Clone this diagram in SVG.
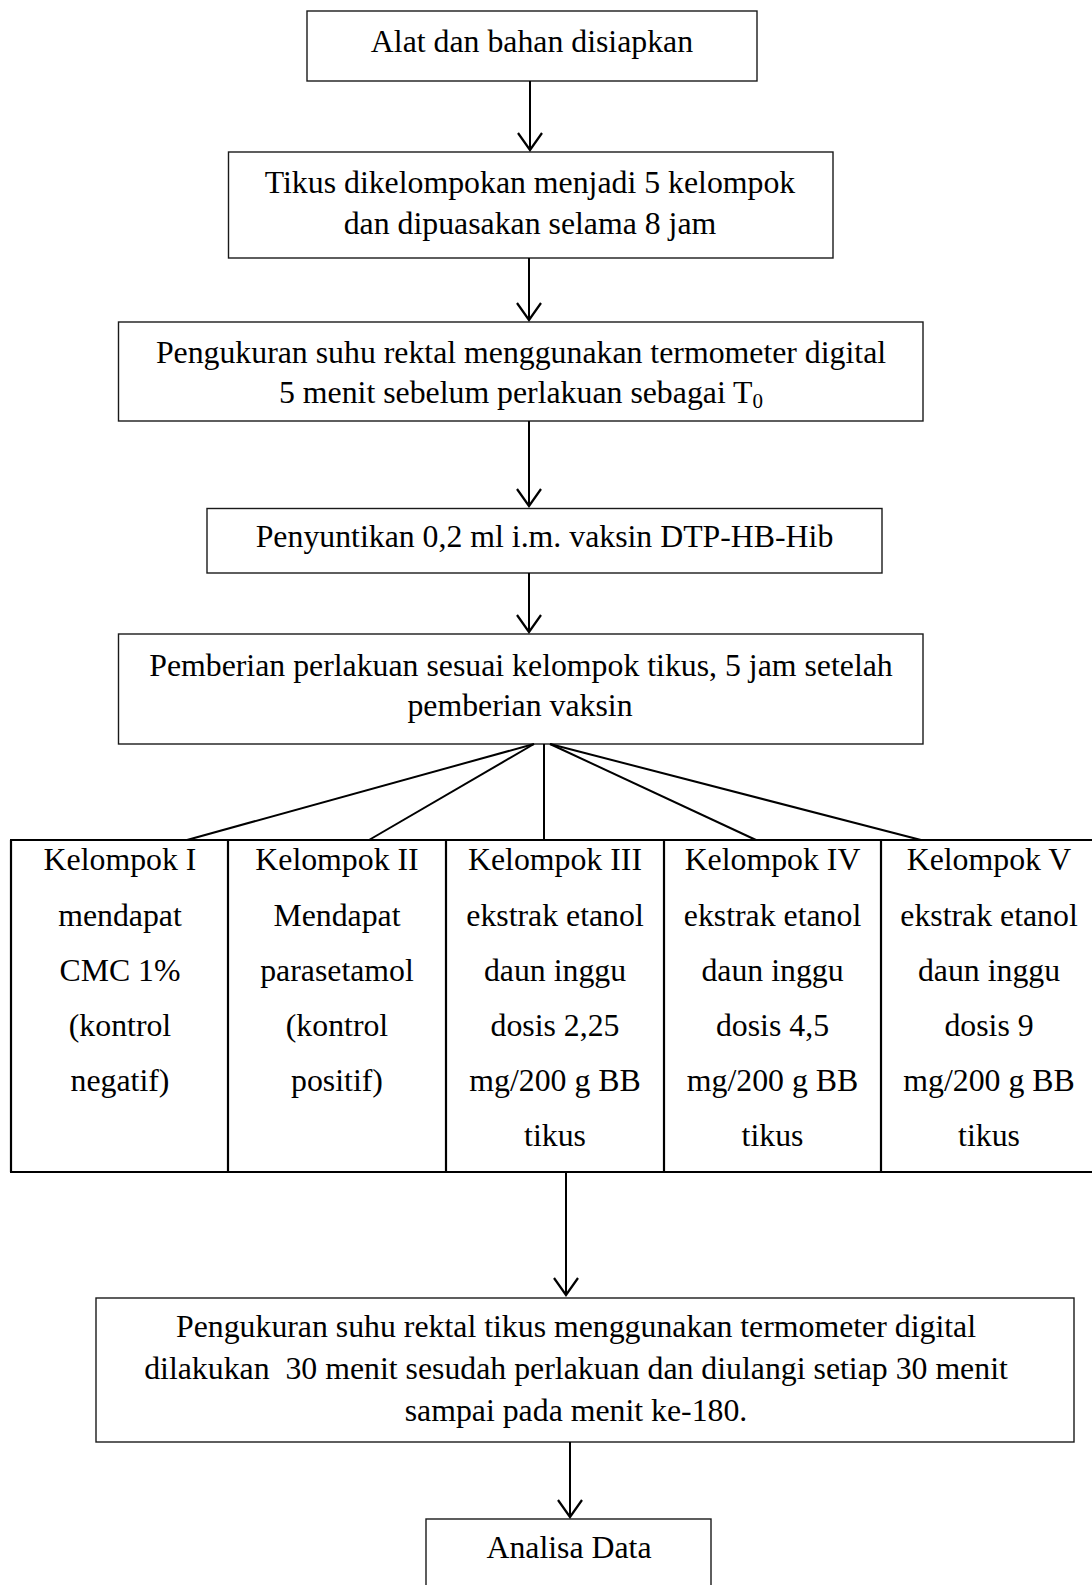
<svg xmlns="http://www.w3.org/2000/svg" width="1092" height="1585" viewBox="0 0 1092 1585">
<style>
.box{fill:#fff;stroke:#1a1a1a;stroke-width:1.4}
.t{font-family:"Liberation Serif","Times New Roman",serif;font-size:31.8px;fill:#000;text-anchor:middle}
.c{stroke:#000;stroke-width:2;fill:none}
.tb{stroke:#000;stroke-width:2.2;fill:none}
</style>
<defs>
<marker id="ah" markerUnits="userSpaceOnUse" markerWidth="20" markerHeight="28" refX="18" refY="13" orient="auto" viewBox="0 0 20 26">
<path d="M1,1 L18,13 L1,25" fill="none" stroke="#000" stroke-width="2.2"/>
</marker>
</defs>
<rect width="1092" height="1585" fill="#fff"/>

<g id="n1">
<rect class="box" x="307" y="11" width="450" height="70"/>
<text class="t" x="532" y="52">Alat dan bahan disiapkan</text>
</g>
<g id="n2">
<rect class="box" x="228.5" y="152" width="604.5" height="106"/>
<text class="t" x="530" y="193">Tikus dikelompokan menjadi 5 kelompok</text>
<text class="t" x="530" y="233.5">dan dipuasakan selama 8 jam</text>
</g>
<g id="n3">
<rect class="box" x="118.5" y="322" width="804.5" height="99"/>
<text class="t" x="521" y="363">Pengukuran suhu rektal menggunakan termometer digital</text>
<text class="t" x="521" y="402.5">5 menit sebelum perlakuan sebagai T<tspan font-size="21" dy="5">0</tspan></text>
</g>
<g id="n4">
<rect class="box" x="207" y="508.5" width="675" height="64.5"/>
<text class="t" x="544.5" y="547">Penyuntikan 0,2 ml i.m. vaksin DTP-HB-Hib</text>
</g>
<g id="n5">
<rect class="box" x="118.5" y="634" width="804.5" height="110"/>
<text class="t" x="521" y="675.5">Pemberian perlakuan sesuai kelompok tikus, 5 jam setelah</text>
<text class="t" x="520" y="716">pemberian vaksin</text>
</g>

<g id="table">
<path class="tb" d="M10,840 H1092 M10,1172 H1092 M11,840 V1172 M228,840 V1172 M446,840 V1172 M664,840 V1172 M881,840 V1172"/>
<g id="k1">
<text class="t" x="120" y="870">Kelompok I</text>
<text class="t" x="120" y="926">mendapat</text>
<text class="t" x="120" y="981">CMC 1%</text>
<text class="t" x="120" y="1036">(kontrol</text>
<text class="t" x="120" y="1091">negatif)</text>
</g>
<g id="k2">
<text class="t" x="337" y="870">Kelompok II</text>
<text class="t" x="337" y="926">Mendapat</text>
<text class="t" x="337" y="981">parasetamol</text>
<text class="t" x="337" y="1036">(kontrol</text>
<text class="t" x="337" y="1091">positif)</text>
</g>
<g id="k3">
<text class="t" x="555" y="870">Kelompok III</text>
<text class="t" x="555" y="926">ekstrak etanol</text>
<text class="t" x="555" y="981">daun inggu</text>
<text class="t" x="555" y="1036">dosis 2,25</text>
<text class="t" x="555" y="1091">mg/200 g BB</text>
<text class="t" x="555" y="1146">tikus</text>
</g>
<g id="k4">
<text class="t" x="772.5" y="870">Kelompok IV</text>
<text class="t" x="772.5" y="926">ekstrak etanol</text>
<text class="t" x="772.5" y="981">daun inggu</text>
<text class="t" x="772.5" y="1036">dosis 4,5</text>
<text class="t" x="772.5" y="1091">mg/200 g BB</text>
<text class="t" x="772.5" y="1146">tikus</text>
</g>
<g id="k5">
<text class="t" x="989" y="870">Kelompok V</text>
<text class="t" x="989" y="926">ekstrak etanol</text>
<text class="t" x="989" y="981">daun inggu</text>
<text class="t" x="989" y="1036">dosis 9</text>
<text class="t" x="989" y="1091">mg/200 g BB</text>
<text class="t" x="989" y="1146">tikus</text>
</g>
</g>

<g id="n6">
<rect class="box" x="96" y="1298" width="978" height="144"/>
<text class="t" x="576" y="1337">Pengukuran suhu rektal tikus menggunakan termometer digital</text>
<text class="t" x="576" y="1379" xml:space="preserve">dilakukan  30 menit sesudah perlakuan dan diulangi setiap 30 menit</text>
<text class="t" x="576" y="1421">sampai pada menit ke-180.</text>
</g>
<g id="n7">
<rect class="box" x="426" y="1519" width="285" height="80"/>
<text class="t" x="569" y="1558">Analisa Data</text>
</g>

<g id="connectors">
<line class="c" x1="530" y1="81" x2="530" y2="150" marker-end="url(#ah)"/>
<line class="c" x1="529" y1="258" x2="529" y2="320" marker-end="url(#ah)"/>
<line class="c" x1="529" y1="421" x2="529" y2="506" marker-end="url(#ah)"/>
<line class="c" x1="529" y1="573" x2="529" y2="632" marker-end="url(#ah)"/>
<line class="c" x1="534" y1="744" x2="187" y2="840"/>
<line class="c" x1="534" y1="744" x2="369" y2="840"/>
<line class="c" x1="544" y1="744" x2="544" y2="840"/>
<line class="c" x1="550" y1="744" x2="756" y2="840"/>
<line class="c" x1="550" y1="744" x2="921" y2="840"/>
<line class="c" x1="566" y1="1172" x2="566" y2="1295" marker-end="url(#ah)"/>
<line class="c" x1="570" y1="1442" x2="570" y2="1517" marker-end="url(#ah)"/>
</g>
</svg>
